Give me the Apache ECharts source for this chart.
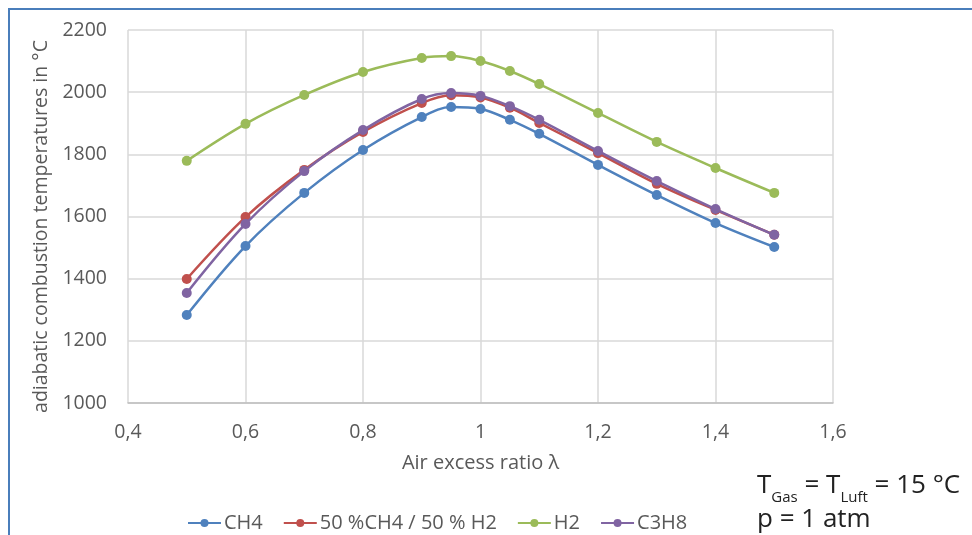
<!DOCTYPE html>
<html>
<head>
<meta charset="utf-8">
<script src="https://cdn.jsdelivr.net/npm/echarts@6/dist/echarts.min.js"></script>
<style>
html,body{margin:0;padding:0;background:#fff;}
#frame{position:absolute;left:8px;top:8px;width:980px;height:540px;border-left:2px solid #4a7ebb;border-top:2px solid #4a7ebb;box-sizing:border-box;}
#chart{position:absolute;left:0;top:0;width:972px;height:535px;}
</style>
</head>
<body>
<div id="frame"></div>
<div id="chart"></div>
<script>
var lambda = [0.5, 0.6, 0.7, 0.8, 0.9, 0.95, 1.0, 1.05, 1.1, 1.2, 1.3, 1.4, 1.5];
var ch4   = [1283, 1505, 1676, 1814, 1920, 1952, 1946, 1911, 1866, 1766, 1669, 1579, 1502];
var mix   = [1399, 1598, 1750, 1872, 1965, 1990, 1983, 1950, 1901, 1804, 1705, 1621, 1541];
var h2    = [1779, 1898, 1991, 2065, 2110, 2116, 2100, 2068, 2026, 1933, 1840, 1756, 1676];
var c3h8  = [1354, 1576, 1746, 1878, 1978, 1997, 1988, 1955, 1911, 1811, 1714, 1624, 1541];
var seriesNames = ['CH4', '50 %CH4 / 50 % H2', 'H2', 'C3H8'];
var seriesData = [ch4, mix, h2, c3h8];
var colors = ['#4f81bd', '#c0504d', '#9bbb59', '#8064a2'];

var font = '"Open Sans", Lato, sans-serif';
var chart = echarts.init(document.getElementById('chart'));
var series = seriesNames.map(function (n, i) {
  return {
    name: n,
    type: 'line',
    smooth: 0.35,
    symbol: 'circle',
    symbolSize: 10,
    data: lambda.map(function (x, j) { return [x, seriesData[i][j]]; }),
    lineStyle: { width: 2.5, color: colors[i] },
    itemStyle: { color: colors[i] },
    z: i === 3 ? 4 : 2
  };
});
chart.setOption({
  animation: false,
  color: colors,
  textStyle: { fontFamily: font },
  grid: { left: 128, top: 30, right: 139, bottom: 132 },
  xAxis: {
    type: 'value', min: 0.4, max: 1.6, interval: 0.2,
    name: 'Air excess ratio λ', nameLocation: 'middle', nameGap: 50,
    nameTextStyle: { fontSize: 20, color: '#595959', fontFamily: font },
    axisLine: { show: true, lineStyle: { color: '#bfbfbf', width: 1.5 } },
    axisTick: { show: false },
    axisLabel: { margin: 19, fontSize: 19.5, color: '#595959', fontFamily: font,
      formatter: function (v) { return String(+v.toFixed(1)).replace('.', ','); } },
    splitLine: { show: true, lineStyle: { color: '#d9d9d9', width: 1.5 } }
  },
  yAxis: {
    type: 'value', min: 1000, max: 2200, interval: 200,
    name: 'adiabatic combustion temperatures in °C', nameLocation: 'middle', nameGap: 72,
    nameTextStyle: { fontSize: 19.5, color: '#595959', fontFamily: font, padding: [0, 20, 0, 0] },
    axisLine: { show: false }, axisTick: { show: false },
    axisLabel: { margin: 21, fontSize: 19.5, color: '#595959', fontFamily: font,
      formatter: function (v) { return String(v); } },
    splitLine: { show: true, lineStyle: { color: '#d9d9d9', width: 1.5 } }
  },
  legend: {
    left: 182, top: 508, itemWidth: 33, itemHeight: 10, itemGap: 20,
    textStyle: { fontSize: 20, color: '#595959', fontFamily: font, padding: [0, 0, 0, -2] },
    data: seriesNames
  },
  graphic: [
    { type: 'text', left: 757, top: 473, style: {
      text: '{b|T}{s|Gas}{b| = T}{s|Luft}{b| = 15 °C}',
      rich: {
        b: { fontSize: 26, fill: '#222', fontFamily: font, verticalAlign: 'bottom', lineHeight: 30 },
        s: { fontSize: 15, fill: '#222', fontFamily: font, verticalAlign: 'bottom', padding: [0,0,-6,0], lineHeight: 30 }
      } } },
    { type: 'text', left: 757, top: 507, style: { text: 'p = 1 atm', fontSize: 26, fill: '#222', fontFamily: font } }
  ],
  series: series
});
</script>
</body>
</html>
